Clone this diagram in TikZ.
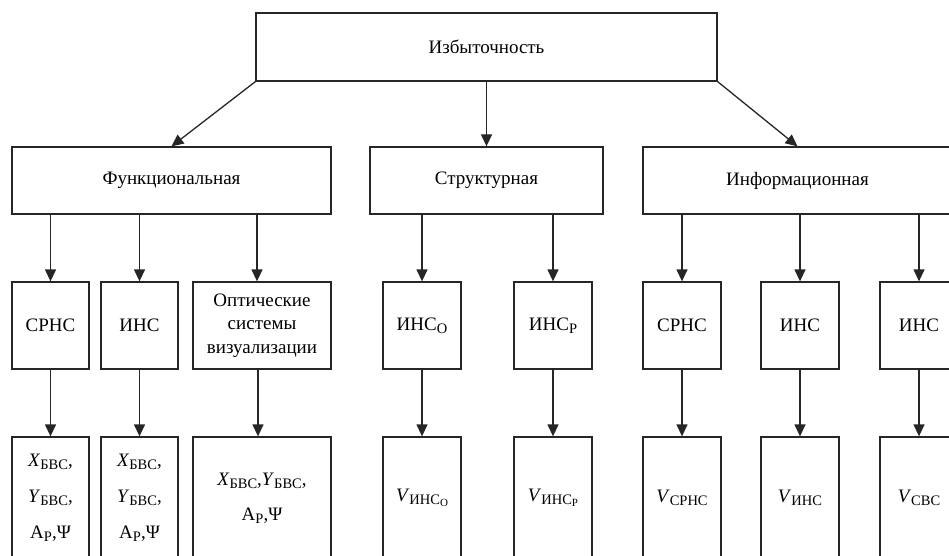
\documentclass[tikz,border=0pt]{standalone}
\usepackage{fontspec}
\setmainfont{Liberation Serif}
\usetikzlibrary{arrows.meta}
\newcommand\sbs[1]{\raisebox{-0.32ex}{\fontsize{14.5}{14.5}\selectfont #1}}
\newcommand\ssbs[1]{\raisebox{-0.3ex}{\fontsize{11}{11}\selectfont #1}}
\begin{document}
\begin{tikzpicture}[x=1pt,y=-1pt,
  box/.style={draw=black!85,line width=1.3pt,rectangle,inner sep=0pt,align=center,
    font=\fontsize{19}{23.5}\selectfont},
  l3/.style={box,minimum height=87pt},
  l4/.style={box,minimum height=122pt,font=\fontsize{19}{36}\selectfont},
  arr/.style={draw=black!85,line width=1.3pt,-{Triangle[length=12pt,width=11pt]}}]
\useasboundingbox (0,0) rectangle (949,556);
\clip (0,0) rectangle (949,556);
% level 1
\node[box,minimum width=461pt,minimum height=68pt] (top) at (486.5,47) {Избыточность};
% level 2
\node[box,minimum width=319pt,minimum height=67pt] (f) at (171.5,180.5) {Функциональная};
\node[box,minimum width=233pt,minimum height=67pt] (s) at (486.5,180.5) {Структурная};
\node[box,minimum width=309pt,minimum height=67pt] (i) at (797.5,180.5) {Информационная};
% level 3
\node[l3,minimum width=77pt] (a1) at (50.5,325.5) {СРНС};
\node[l3,minimum width=77pt] (a2) at (139.5,325.5) {ИНС};
\node[l3,minimum width=138pt] (a3) at (262,325.5) {Оптические\\системы\\визуализации};
\node[l3,minimum width=78pt] (b1) at (422,325.5) {ИНС\sbs{О}};
\node[l3,minimum width=78pt] (b2) at (553,325.5) {ИНС\sbs{Р}};
\node[l3,minimum width=78pt] (c1) at (682,325.5) {СРНС};
\node[l3,minimum width=78pt] (c2) at (800,325.5) {ИНС};
\node[l3,minimum width=78pt] (c3) at (919,325.5) {ИНС};
% level 4
\node[l4,minimum width=77pt] (a1b) at (50.5,498) {\textit{X}\sbs{БВС},\\\textit{Y}\sbs{БВС},\\А\sbs{Р},Ψ};
\node[l4,minimum width=77pt] (a2b) at (139.5,498) {\textit{X}\sbs{БВС},\\\textit{Y}\sbs{БВС},\\А\sbs{Р},Ψ};
\node[l4,minimum width=138pt,font=\fontsize{19}{35}\selectfont] (a3b) at (262,498) {\textit{X}\sbs{БВС},\textit{Y}\sbs{БВС},\\А\sbs{Р},Ψ};
\node[l4,minimum width=78pt] (b1b) at (422,498) {\textit{V}\sbs{ИНС\ssbs{О}}};
\node[l4,minimum width=78pt] (b2b) at (553,498) {\textit{V}\sbs{ИНС\ssbs{Р}}};
\node[l4,minimum width=78pt] (c1b) at (682,498) {\textit{V}\sbs{СРНС}};
\node[l4,minimum width=78pt] (c2b) at (800,498) {\textit{V}\sbs{ИНС}};
\node[l4,minimum width=78pt] (c3b) at (919,498) {\textit{V}\sbs{СВС}};
% arrows level 1 -> 2
\draw[arr] (top.south west) -- (f.north);
\draw[arr] (top.south) -- (s.north);
\draw[arr] (top.south east) -- (i.north);
% arrows level 2 -> 3
\foreach \n/\p in {a1/f,a2/f,b1/s,b2/s,c1/i,c2/i,c3/i}
  \draw[arr] (\n.north |- \p.south) -- (\n.north);
\draw[arr] ([xshift=-5pt]a3.north |- f.south) -- ([xshift=-5pt]a3.north);
% arrows level 3 -> 4
\foreach \n in {a1,a2,b1,b2,c1,c2,c3}
  \draw[arr] (\n.south) -- (\n b.north);
\draw[arr] ([xshift=-4pt]a3.south) -- ([xshift=-4pt]a3b.north);
\end{tikzpicture}
\end{document}
